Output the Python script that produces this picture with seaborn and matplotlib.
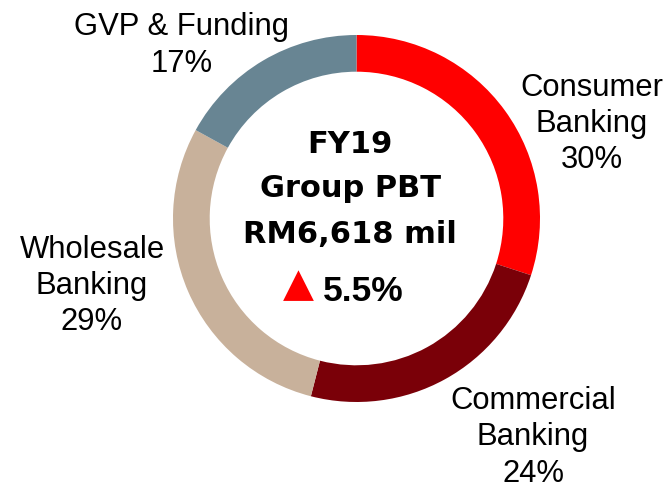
import matplotlib
matplotlib.use("Agg")
import matplotlib.pyplot as plt
import seaborn as sns

segments = ["Consumer\nBanking", "Commercial\nBanking", "Wholesale\nBanking", "GVP & Funding"]
shares = [30, 24, 29, 17]
colors = ["#FF0000", "#7A0008", "#C8B19B", "#688593"]

title_lines = ["FY19", "Group PBT", "RM6,618 mil"]
growth = "5.5%"

sns.set_style("white")
plt.rcParams["font.family"] = ["Liberation Sans", "DejaVu Sans"]

fig = plt.figure(figsize=(6.71, 4.87), dpi=100)
# donut centre ~ (356.5, 218.5) px, radius ~183.5 px
cx, cy, r = 356.5, 218.5, 183.5
ax = fig.add_axes([(cx - r) / 671, (487 - cy - r) / 487, 2 * r / 671, 2 * r / 487])

ax.pie(shares, colors=colors, startangle=90, counterclock=False, radius=1,
       wedgeprops=dict(width=0.2, linewidth=0))
ax.set_xlim(-1, 1)
ax.set_ylim(-1, 1)
ax.set_aspect("equal")
ax.axis("off")


def px(x, y):
    return (x - cx) / r, (cy - y) / r


# outside labels: (centre x, last-line baseline y) in pixels
label_pos = [(592, 168), (533, 481.5), (92, 330), (182, 71.5)]
for name, val, (x, y) in zip(segments, shares, label_pos):
    lx, ly = px(x, y)
    ax.text(lx, ly, f"{name}\n{val}%", ha="center", va="baseline",
            fontsize=22.3, linespacing=1.27, color="black", clip_on=False)

# centre text
for line, y in zip(title_lines, [152.7, 196.7, 242.7]):
    lx, ly = px(350, y)
    ax.text(lx, ly, line, ha="center", va="baseline", fontsize=22,
            fontweight="bold", family="DejaVu Sans", color="black")

tx, ty = px(298, 296.5)
ax.text(tx, ty, "\u25B2", ha="center", va="baseline", fontsize=29,
        color="#FF0000", family="DejaVu Sans")
gx, gy = px(322.5, 301)
ax.text(gx, gy, growth, ha="left", va="baseline", fontsize=25.5,
        fontweight="bold", color="black")

fig.savefig("out.png", dpi=100)
